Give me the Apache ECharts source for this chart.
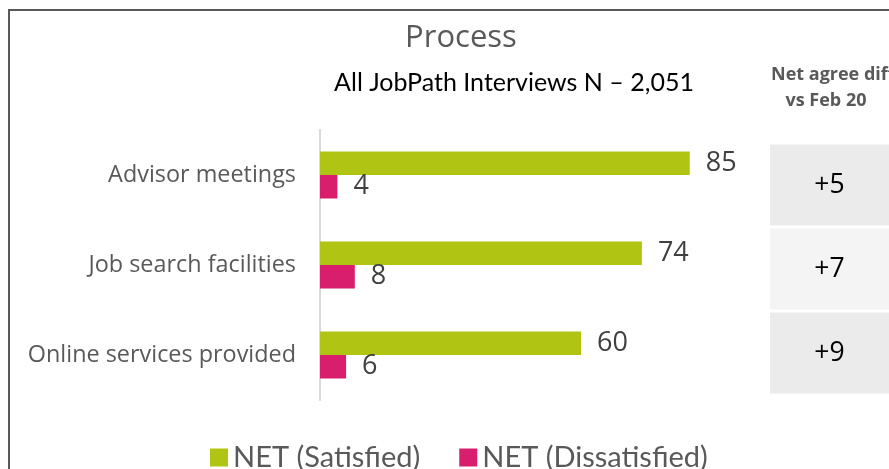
<!DOCTYPE html>
<html>
<head>
<meta charset="utf-8">
<script src="https://cdn.jsdelivr.net/npm/echarts@6/dist/echarts.min.js"></script>
<style>
    html, body { margin: 0; padding: 0; background: #fff; }
    #main { width: 889px; height: 469px; }
</style>
</head>
<body>
<div id="main"></div>
<script>
var categories = ['Advisor meetings', 'Job search facilities', 'Online services provided'];
var satisfied = [85, 74, 60];
var dissatisfied = [4, 8, 6];
var diffs = ['+5', '+7', '+9'];

var myChart = echarts.init(document.getElementById('main'));

var font = 'Open Sans';
var font2 = 'Lato';   // calibri-ish
var cellColors = ['#ebebeb', '#f4f4f4', '#ebebeb'];

var option = {
    backgroundColor: '#fff',
    animation: false,
    title: [
        {
            text: 'Process',
            left: 461, top: 23, textAlign: 'center', padding: 0,
            textStyle: { fontFamily: font, fontSize: 31, fontWeight: 'normal', color: '#595959' }
        },
        {
            text: 'All JobPath Interviews N – 2,051',
            left: 514, top: 70, textAlign: 'center', padding: 0,
            textStyle: { fontFamily: font2, fontSize: 25, fontWeight: 'normal', color: '#000' }
        },
        {
            text: 'Net agree diff',
            left: 771, top: 66, padding: 0,
            textStyle: { fontFamily: font, fontSize: 18, fontWeight: 'bold', color: '#595959' }
        },
        {
            text: 'vs Feb 20',
            left: 826, top: 92, textAlign: 'center', padding: 0,
            textStyle: { fontFamily: font, fontSize: 18, fontWeight: 'bold', color: '#595959' }
        }
    ],
    legend: {
        left: 205, top: 438,
        icon: 'rect', itemWidth: 18, itemHeight: 18, itemGap: 39,
        textStyle: { fontFamily: font2, fontSize: 29, color: '#595959' },
        data: ['NET (Satisfied)', 'NET (Dissatisfied)']
    },
    grid: [
        { left: 320, top: 130, width: 435, height: 270 },
        { left: 770, top: 143, width: 160, height: 252 }
    ],
    xAxis: [
        { gridIndex: 0, type: 'value', min: 0, max: 100, show: false },
        { gridIndex: 1, type: 'value', min: 0, max: 1, show: false }
    ],
    yAxis: [
        {
            gridIndex: 0, type: 'category', inverse: true, data: categories,
            axisLine: { lineStyle: { color: '#d9d9d9', width: 2 } },
            axisTick: { show: false },
            axisLabel: { margin: 24, fontFamily: font, fontSize: 23.4, color: '#595959' }
        },
        { gridIndex: 1, type: 'category', inverse: true, data: categories, show: false }
    ],
    series: [
        {
            name: 'NET (Satisfied)', type: 'bar',
            xAxisIndex: 0, yAxisIndex: 0,
            barWidth: 23.5, barGap: '0%',
            itemStyle: { color: '#b0c414' },
            label: {
                show: true, position: 'right', distance: 16,
                fontFamily: font, fontSize: 27, color: '#404040'
            },
            data: satisfied
        },
        {
            name: 'NET (Dissatisfied)', type: 'bar',
            xAxisIndex: 0, yAxisIndex: 0,
            barWidth: 23.5, barGap: '0%',
            itemStyle: { color: '#d81e6c' },
            label: {
                show: true, position: 'right', distance: 16,
                fontFamily: font, fontSize: 27, color: '#404040'
            },
            data: dissatisfied
        },
        {
            name: 'diff', type: 'bar',
            xAxisIndex: 1, yAxisIndex: 1,
            barWidth: 81,
            silent: true,
            label: {
                show: true, position: 'inside', offset: [0, 0],
                fontFamily: font, fontSize: 26.5, color: '#000',
                formatter: function (p) { return diffs[p.dataIndex]; }
            },
            data: diffs.map(function (d, i) {
                return { value: 1, itemStyle: { color: cellColors[i] } };
            })
        }
    ],
    graphic: [
        {
            type: 'rect',
            shape: { x: 9, y: 10, width: 1000, height: 1000 },
            style: { fill: null, stroke: '#595959', lineWidth: 2 },
            silent: true
        }
    ]
};

myChart.setOption(option);
</script>
</body>
</html>
